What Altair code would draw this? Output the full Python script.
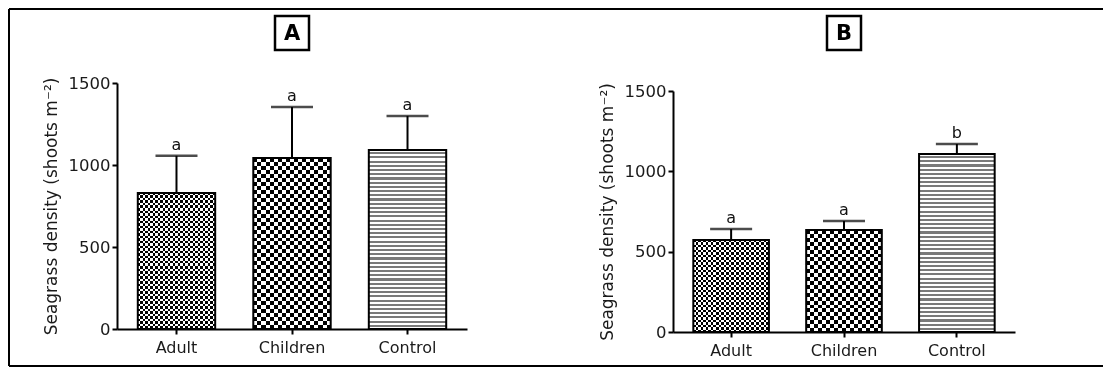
import altair as alt
import pandas as pd

groups = ["Adult", "Children", "Control"]
mean_a = [830, 1043, 1091]
err_a = [226, 311, 208]
letters_a = ["a", "a", "a"]
mean_b = [573, 635, 1108]
err_b = [68, 56, 62]
letters_b = ["a", "a", "b"]
y_ticks = [0, 500, 1000, 1500]
y_title = "Seagrass density (shoots m⁻²)"

FONT = "DejaVu Sans"


def stripes(n, c1, c2, horizontal):
    stops = []
    for i in range(n):
        c = c1 if i % 2 == 0 else c2
        stops.append({"offset": i / n, "color": c})
        stops.append({"offset": (i + 1) / n, "color": c})
    g = {"gradient": "linear", "stops": stops, "x1": 0, "y1": 0}
    if horizontal:
        g.update(x2=0, y2=1)
    else:
        g.update(x2=1, y2=0)
    return g


def panel(means, errs, letters, label, width, plot_h, top_off, frame=False):
    height = plot_h + top_off
    df = pd.DataFrame({"group": groups, "mean": means, "err": errs, "letter": letters})
    df["upper"] = df["mean"] + df["err"]
    pi, po = 0.33, 0.18
    step = width / (3 - pi + 2 * po)
    bw = step * (1 - pi)
    xs = alt.Scale(domain=groups, paddingInner=pi, paddingOuter=po)
    xax = alt.Axis(title=None, labelAngle=0, labelPadding=5, labelFontSize=16)
    x = alt.X("group:N", scale=xs, axis=xax, sort=groups)
    ys = alt.Scale(domain=[0, 1500], range=[height, top_off], nice=False, zero=True)
    yax = alt.Axis(values=y_ticks, title=y_title, grid=False, titlePadding=8, format="d",
                   labelFontSize=16.5, titleFontSize=17)
    y = alt.Y("mean:Q", scale=ys, axis=yax)
    yu = alt.Y("upper:Q", scale=ys, axis=yax)
    base = alt.Chart(df)
    layers = []
    for g, m in zip(groups, means):
        hpx = m / 1500 * plot_h
        sub = base.transform_filter(alt.datum.group == g)
        if g == "Control":
            layers.append(
                sub.mark_bar(fill=stripes(max(1, round(hpx / 2.1)), "#ffffff", "#7a7a7a", True),
                             strokeWidth=0).encode(x=x, y=y))
        else:
            cell = 2.5 if g == "Adult" else 4.0
            nv = max(1, round(bw / cell))
            nh = max(1, round(hpx / cell))
            layers.append(
                sub.mark_bar(fill=stripes(nv, "#ffffff", "#000000", False), strokeWidth=0)
                .encode(x=x, y=y))
            layers.append(
                sub.mark_bar(fill=stripes(nh, "#ffffff", "#000000", True), strokeWidth=0,
                             blend="difference").encode(x=x, y=y))
    layers.append(base.mark_bar(fill="white", fillOpacity=0, stroke="black", strokeWidth=2)
                  .encode(x=x, y=y))
    layers.append(base.mark_rule(color="black", strokeWidth=2).encode(x=x, y=y, y2="upper:Q"))
    layers.append(base.mark_tick(color="black", thickness=2.5, size=42, orient="horizontal")
                  .encode(x=x, y=yu))
    layers.append(base.mark_text(font=FONT, fontSize=16, baseline="bottom", dy=-3, color="#111")
                  .encode(x=x, y=yu, text="letter:N"))
    one = alt.Chart(pd.DataFrame({"t": [label]}))
    bx = alt.X(datum="Children", type="nominal", scale=xs, axis=xax)
    layers.append(one.mark_point(shape="square", size=34 * 34, filled=False, stroke="black",
                                 strokeWidth=2.5, opacity=1)
                  .encode(x=bx, y=alt.value(-50)))
    layers.append(one.mark_text(font=FONT, fontSize=21, fontWeight="bold", color="black",
                                baseline="middle", dy=1)
                  .encode(x=bx, y=alt.value(-50), text="t:N"))
    if frame:
        fr = one.mark_rule(color="black", strokeWidth=2)
        layers.append(fr.encode(x=alt.value(-108), y=alt.value(-74), y2=alt.value(283)))
        layers.append(fr.encode(x=alt.value(-108), x2=alt.value(986), y=alt.value(-74)))
        layers.append(fr.encode(x=alt.value(-108), x2=alt.value(986), y=alt.value(283)))
    return alt.layer(*layers).properties(width=width, height=height)


pa = panel(mean_a, err_a, letters_a, "A", 350, 246, 0, frame=True)
pb = panel(mean_b, err_b, letters_b, "B", 342, 241, 8)

chart = alt.hconcat(
    pa, pb, spacing=206, bounds="flush", padding=0, background="white"
).configure_view(
    stroke=None
).configure_axis(
    domainColor="black", domainWidth=2, tickColor="black", tickWidth=2, tickSize=5,
    labelFont=FONT, labelColor="#1a1a1a", labelPadding=2,
    titleFont=FONT, titleFontWeight="normal", titleColor="#1a1a1a",
)

chart.save("out.html", embed_options={"renderer": "svg", "actions": False})
